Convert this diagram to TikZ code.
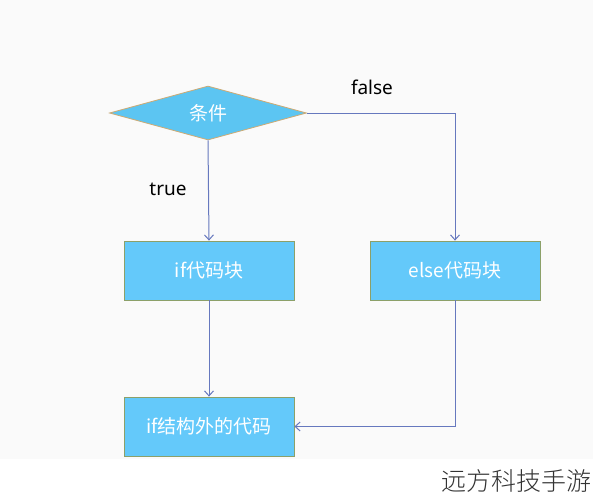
\documentclass[tikz,border=0pt]{standalone}
\usepackage{fontspec}
\setmainfont{Noto Sans CJK SC}
\newfontfamily\wmfont{Noto Sans CJK SC Light}
\newfontfamily\labelfont{Noto Sans}
\usetikzlibrary{arrows.meta,shapes.geometric}

\definecolor{kastenblau}{RGB}{100,201,250}
\definecolor{rautenblau}{RGB}{92,197,242}
\definecolor{kastenrand}{RGB}{140,160,105}
\definecolor{rautenrand}{RGB}{205,170,115}
\definecolor{pfeil}{RGB}{102,120,190}

\begin{document}
\begin{tikzpicture}[
    x=1pt, y=-1pt,
    kasten/.style={
      rectangle,
      fill=kastenblau,
      draw=kastenrand,
      line width=0.8pt,
      minimum width=170pt,
      minimum height=59pt,
      inner sep=0pt,
      text=white,
      font=\fontsize{19pt}{22pt}\selectfont},
    raute/.style={
      diamond,
      aspect=3.65,
      fill=rautenblau,
      draw=rautenrand,
      line width=0.8pt,
      minimum width=197pt,
      minimum height=54pt,
      inner sep=0pt,
      text=white,
      font=\fontsize{19pt}{22pt}\selectfont},
    pfeil/.style={
      draw=pfeil,
      line width=1pt,
      -{Straight Barb[length=5pt,width=9pt]}},
    beschriftung/.style={
      font=\labelfont\fontsize{19pt}{22pt}\selectfont,
      text=black}
    ]

  % hintergrund
  \fill[white] (0,0) rectangle (593,500);
  \fill[black!2] (0,0) rectangle (593,459);
  \useasboundingbox (0,0) rectangle (593,500);

  \node at (208,113) (bedingung) [raute] {条件};
  \node at (209,270.5) (ifblock) [kasten] {if代码块};
  \node at (455,270.5) (elseblock) [kasten] {else代码块};
  \node at (209,426.5) (danach) [kasten] {if结构外的代码};

  \coordinate (eckeoben) at (455,113);
  \coordinate (eckeunten) at (455,426.5);

  \node at (372,87) (labelfalse) [beschriftung] {false};
  \node at (168,189) (labeltrue) [beschriftung] {true};

  \draw[pfeil] (bedingung.south) -- (ifblock.north);
  \draw[pfeil] (bedingung.east) -- (eckeoben) -- (elseblock.north);
  \draw[pfeil] (ifblock.south) -- (danach.north);
  \draw[pfeil] (elseblock.south) -- (eckeunten) -- (danach.east);

  % wasserzeichen
  \node at (516,481) (wasserzeichen) [text=black!80, font=\wmfont\fontsize{25pt}{27pt}\selectfont] {远方科技手游};

\end{tikzpicture}
\end{document}
